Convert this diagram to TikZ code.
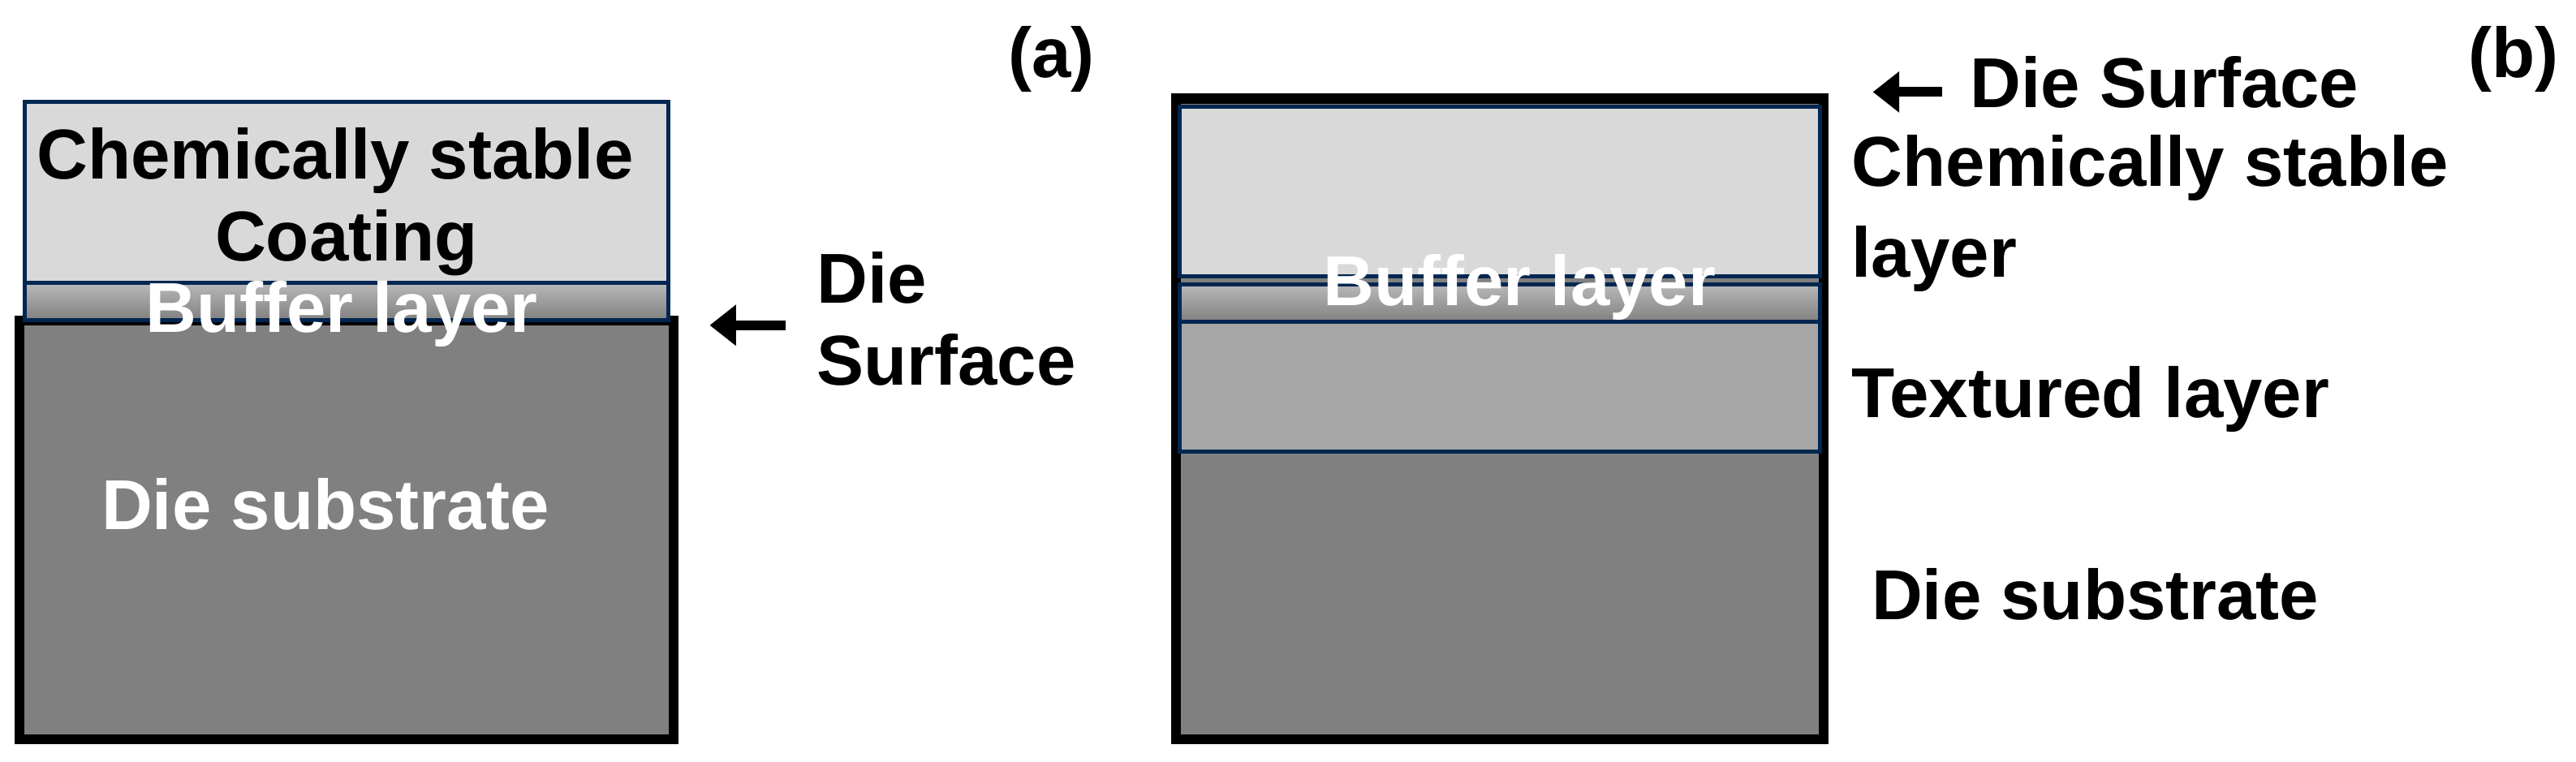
\documentclass[tikz,border=0pt]{standalone}
\usepackage{fontspec}
\setmainfont{Liberation Sans}
\usetikzlibrary{arrows.meta}
\begin{document}
\begin{tikzpicture}[x=1pt,y=-1pt,
  lbl/.style={font=\fontsize{43}{50}\selectfont\bfseries, inner sep=0pt},
  wlbl/.style={lbl, text=white},
  navy/.style={draw=navyc, line width=2.5pt},
  blk/.style={draw=black, line width=6pt}]
\definecolor{navyc}{HTML}{002651}
\definecolor{lg}{HTML}{D9D9D9}
\definecolor{mg}{HTML}{A6A6A6}
\definecolor{dg}{HTML}{808080}
\useasboundingbox (0,0) rectangle (1568,463.4);
% (a)
\fill[dg] (12,195) rectangle (410,450);
\draw[blk] (12,195) rectangle (410,450);
\fill[lg] (15,62) rectangle (407,172);
\shade[top color=gray!55, bottom color=dg] (15,172) rectangle (407,195);
\draw[navy] (15,62) rectangle (407,172);
\draw[navy] (15,172) rectangle (407,195);
\node[lbl] (a1) at (204,98) {Chemically stable};
\node[lbl] (a2) at (211,148) {Coating};
\node[wlbl] (a3) at (208,191) {Buffer layer};
\node[wlbl] (a4) at (198,307) {Die substrate};
\node[lbl, anchor=west, align=left] (a5) at (497,194) {Die\\Surface};
\coordinate (aa1) at (478,198);
\coordinate (aa2) at (432,198);
\draw[line width=6pt, -{Triangle[length=16pt,width=24pt]}] (aa1) -- (aa2);
\node[lbl] (la) at (640,36) {(a)};
% (b)
\fill[dg] (716,60) rectangle (1110,450);
\draw[blk] (716,60) rectangle (1110,450);
\fill[lg] (718,65) rectangle (1108,168);
\shade[top color=gray!55, bottom color=dg] (718,173) rectangle (1108,196);
\fill[mg] (718,196) rectangle (1108,275);
\draw[navy] (718,65) rectangle (1108,168);
\draw[navy] (718,173) rectangle (1108,196);
\draw[navy] (718,196) rectangle (1108,275);
\node[wlbl] (b3) at (925,175) {Buffer layer};
\node[lbl, anchor=west, align=left] (b1) at (1127,130) {Chemically stable\\[5pt]layer};
\node[lbl, anchor=west] (b2) at (1127,243) {Textured layer};
\node[lbl, anchor=west] (b4) at (1139,362) {Die substrate};
\node[lbl, anchor=west] (b5) at (1199,50) {Die Surface};
\coordinate (ba1) at (1182,56);
\coordinate (ba2) at (1140,56);
\draw[line width=6pt, -{Triangle[length=16pt,width=24pt]}] (ba1) -- (ba2);
\node[lbl] (lb) at (1530,36) {(b)};
\end{tikzpicture}
\end{document}
